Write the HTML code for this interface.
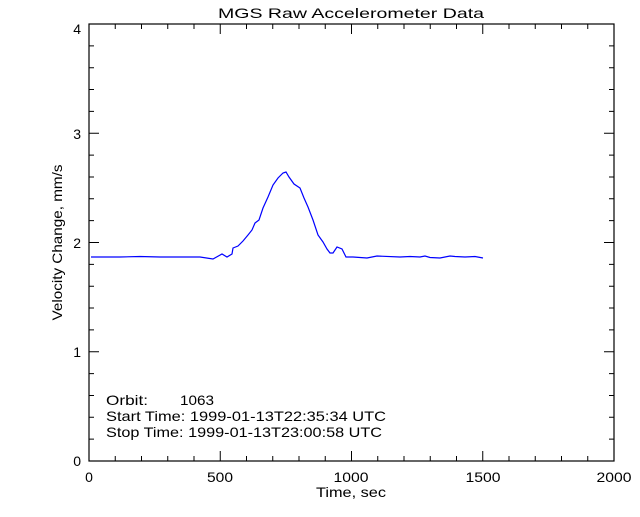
<!DOCTYPE html>
<html><head><style>
body{margin:0;background:#fff;}
svg text{font-family:"Liberation Sans",sans-serif;font-size:14px;fill:#000;}
</style></head><body>
<svg width="640" height="512" xmlns="http://www.w3.org/2000/svg">
<rect width="640" height="512" fill="#fff"/>
<text x="351" y="18" text-anchor="middle" font-size="16" textLength="266" lengthAdjust="spacingAndGlyphs">MGS Raw Accelerometer Data</text>
<rect x="89" y="24" width="525" height="437" fill="none" stroke="#000" stroke-width="1.2"/>
<g stroke="#000" stroke-width="1">
<path d="M220.25 461v-10M351.5 461v-10M482.75 461v-10M220.25 24v10M351.5 24v10M482.75 24v10"/>
<path d="M115.25 461v-5M141.5 461v-5M167.75 461v-5M194 461v-5M246.5 461v-5M272.75 461v-5M299 461v-5M325.25 461v-5M377.75 461v-5M404 461v-5M430.25 461v-5M456.5 461v-5M509 461v-5M535.25 461v-5M561.5 461v-5M587.75 461v-5
M115.25 24v5M141.5 24v5M167.75 24v5M194 24v5M246.5 24v5M272.75 24v5M299 24v5M325.25 24v5M377.75 24v5M404 24v5M430.25 24v5M456.5 24v5M509 24v5M535.25 24v5M561.5 24v5M587.75 24v5"/>
<path d="M89 351.75h10M89 242.5h10M89 133.25h10M614 351.75h-10M614 242.5h-10M614 133.25h-10"/>
<path d="M89 439.15h5M89 417.3h5M89 395.45h5M89 373.6h5M89 329.9h5M89 308.05h5M89 286.2h5M89 264.35h5M89 220.65h5M89 198.8h5M89 176.95h5M89 155.1h5M89 111.4h5M89 89.55h5M89 67.7h5M89 45.85h5
M614 439.15h-5M614 417.3h-5M614 395.45h-5M614 373.6h-5M614 329.9h-5M614 308.05h-5M614 286.2h-5M614 264.35h-5M614 220.65h-5M614 198.8h-5M614 176.95h-5M614 155.1h-5M614 111.4h-5M614 89.55h-5M614 67.7h-5M614 45.85h-5"/>
</g>
<g text-anchor="middle">
<text x="89" y="482">0</text>
<text x="220" y="482" textLength="26" lengthAdjust="spacingAndGlyphs">500</text>
<text x="351" y="482" textLength="35" lengthAdjust="spacingAndGlyphs">1000</text>
<text x="483" y="482" textLength="35" lengthAdjust="spacingAndGlyphs">1500</text>
<text x="614" y="482" textLength="35" lengthAdjust="spacingAndGlyphs">2000</text>
<text x="351" y="497" textLength="70" lengthAdjust="spacingAndGlyphs">Time, sec</text>
</g>
<g text-anchor="end">
<text x="81" y="466">0</text><text x="81" y="357">1</text><text x="81" y="248">2</text><text x="81" y="139">3</text><text x="81" y="34">4</text>
</g>
<text transform="translate(62,242.5) rotate(-90)" text-anchor="middle" textLength="156" lengthAdjust="spacingAndGlyphs">Velocity Change, mm/s</text>
<text x="106" y="405" textLength="42" lengthAdjust="spacingAndGlyphs">Orbit:</text><text x="180" y="405" textLength="34" lengthAdjust="spacingAndGlyphs">1063</text>
<text x="106" y="421" textLength="280" lengthAdjust="spacingAndGlyphs">Start Time: 1999-01-13T22:35:34 UTC</text>
<text x="106" y="437" textLength="276" lengthAdjust="spacingAndGlyphs">Stop Time: 1999-01-13T23:00:58 UTC</text>
<polyline fill="none" stroke="#0000ff" stroke-width="1.2" points="91,257 120,257 140,256.5 160,257 180,257 200,257 213,259 222,254 227,257 232,254 233,248 238,246 243,241 248,235 252,230 255,223 259,220 263,208 268,197 273,185 278,178 283,173 286,172 289,177 294,184 300,188 304,198 308,207 313,220 318,235 323,242 327,249 330,253 333,253 337,247 342,249 346,257 353,257 367,258 377,256 400,257 410,256.5 420,257 425,256 430,257.5 440,258 450,256 455,256.5 465,257 475,256.5 483,258"/>
</svg>
</body></html>
